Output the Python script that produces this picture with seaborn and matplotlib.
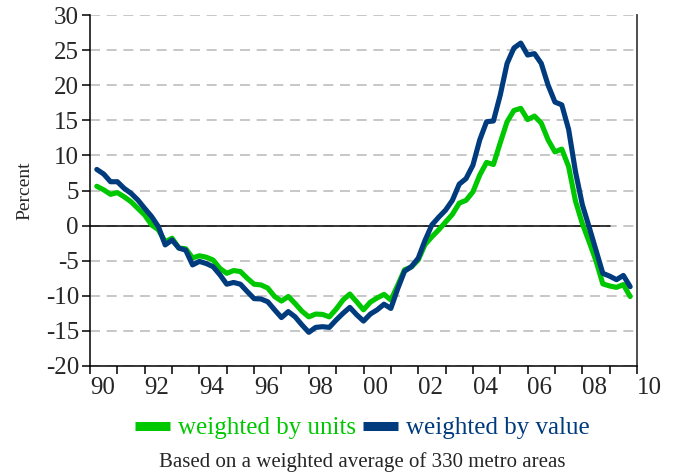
import numpy as np
import pandas as pd
import matplotlib
matplotlib.use("Agg")
import matplotlib.pyplot as plt
import matplotlib.transforms as mtrans
from matplotlib.lines import Line2D
import seaborn as sns

# ---- data (quarterly, 1990Q1 .. 2009Q3), percent change ----
weighted_by_units = [
    5.6, 5.1, 4.45, 4.7, 4.1, 3.4, 2.45, 1.5, 0.1, -0.6,
    -2.3, -1.8, -3.2, -3.3, -4.6, -4.3, -4.5, -4.9, -6.1, -6.8,
    -6.4, -6.55, -7.5, -8.35, -8.45, -8.9, -10.1, -10.75, -10.1, -11.1,
    -12.2, -13.0, -12.6, -12.65, -13.0, -11.9, -10.6, -9.75, -10.85, -12.0,
    -10.9, -10.3, -9.8, -10.6, -8.5, -6.3, -5.9, -4.9, -2.7, -1.6,
    -0.6, 0.5, 1.6, 3.2, 3.6, 4.8, 7.2, 9.0, 8.7, 11.8,
    14.8, 16.4, 16.7, 15.1, 15.6, 14.6, 12.2, 10.5, 10.9, 8.4,
    3.5, 0.3, -2.3, -5.0, -8.3, -8.6, -8.8, -8.4, -10.1,
]
weighted_by_value = [
    8.0, 7.35, 6.25, 6.25, 5.3, 4.6, 3.65, 2.45, 1.3, -0.15,
    -2.75, -2.05, -3.2, -3.5, -5.6, -5.1, -5.4, -5.85, -7.0, -8.35,
    -8.1, -8.35, -9.4, -10.4, -10.45, -10.85, -12.0, -13.1, -12.25, -13.0,
    -14.15, -15.2, -14.5, -14.4, -14.5, -13.45, -12.5, -11.65, -12.7, -13.6,
    -12.6, -12.0, -11.2, -11.8, -9.0, -6.5, -5.85, -4.65, -2.1, 0.1,
    1.2, 2.2, 3.6, 5.9, 6.7, 8.6, 12.2, 14.8, 14.9, 18.6,
    23.1, 25.3, 26.0, 24.3, 24.5, 23.1, 20.0, 17.6, 17.2, 13.7,
    7.7, 3.0, -0.2, -3.5, -6.8, -7.2, -7.7, -7.1, -8.7,
]
start_year = 1990
n_quarters = len(weighted_by_units)
time = start_year + np.arange(1, n_quarters + 1) / 4.0

x_tick_labels = ["90", "92", "94", "96", "98", "00", "02", "04", "06", "08", "10"]
x_label_years = [1990, 1992, 1994, 1996, 1998, 2000, 2002, 2004, 2006, 2008, 2010]
y_ticks = [-20, -15, -10, -5, 0, 5, 10, 15, 20, 25, 30]

series_names = ["weighted by units", "weighted by value"]
colors = {"weighted by units": "#00C800", "weighted by value": "#003C7D"}

df = pd.DataFrame({
    "time": np.concatenate([time, time]),
    "pct": weighted_by_units + weighted_by_value,
    "series": [series_names[0]] * n_quarters + [series_names[1]] * n_quarters,
})

# ---- style ----
sns.set_theme(style="white")
plt.rcParams["font.family"] = ["Liberation Serif", "DejaVu Serif"]

fig = plt.figure(figsize=(6.76, 4.74), dpi=100)
ax = fig.add_axes([90 / 676, 1 - 366 / 474, (637 - 90) / 676, (366 - 15) / 474])

# grid
for v in y_ticks:
    ax.axhline(v, color="#BEBEBE", lw=1.2, ls=(0, (6, 4)), zorder=0)
# zero line (1990 .. 2009)
ax.plot([1990, 2009], [0, 0], color="black", lw=1.1, zorder=1)

sns.lineplot(data=df, x="time", y="pct", hue="series", palette=colors,
             hue_order=series_names, lw=3.7, ax=ax, legend=False, zorder=3)

ax.set_xlim(1990, 2010)
ax.set_ylim(-20, 30)
ax.set_yticks(y_ticks)
ax.set_yticklabels([str(v) for v in y_ticks], fontsize=18)
ax.set_xticks(np.arange(1990, 2011, 1))
ax.set_xticklabels([])
ax.tick_params(axis="both", direction="out", length=6, width=1.1, color="black",
               left=True, bottom=True, pad=2)
ax.set_xlabel("")
ax.set_ylabel("Percent", fontsize=14, labelpad=9)

for s in ["left", "bottom"]:
    ax.spines[s].set_color("black")
    ax.spines[s].set_linewidth(1.1)
ax.spines["right"].set_color("#404040")
ax.spines["right"].set_linewidth(1.3)
ax.spines["top"].set_visible(False)

# x labels centred in each labelled year
trans = mtrans.blended_transform_factory(ax.transData, ax.transAxes)
for yr, lab in zip(x_label_years, x_tick_labels):
    ax.text(yr + 0.45, -0.063, lab, transform=trans, ha="center", va="center",
            fontsize=18, clip_on=False)

# legend
handles = [Line2D([0], [0], color=colors[n], lw=6.5, solid_capstyle="butt")
           for n in series_names]
leg = fig.legend(handles, series_names, loc="center", bbox_to_anchor=(0.536, 0.097),
                 ncol=2, frameon=False, fontsize=18, handlelength=1.4,
                 handletextpad=0.3, columnspacing=0.3, borderaxespad=0)
for txt, n in zip(leg.get_texts(), series_names):
    txt.set_color(colors[n])

fig.text(0.536, 0.025, "Based on a weighted average of 330 metro areas",
         ha="center", va="center", fontsize=15)

fig.savefig("out.png", dpi=100)
